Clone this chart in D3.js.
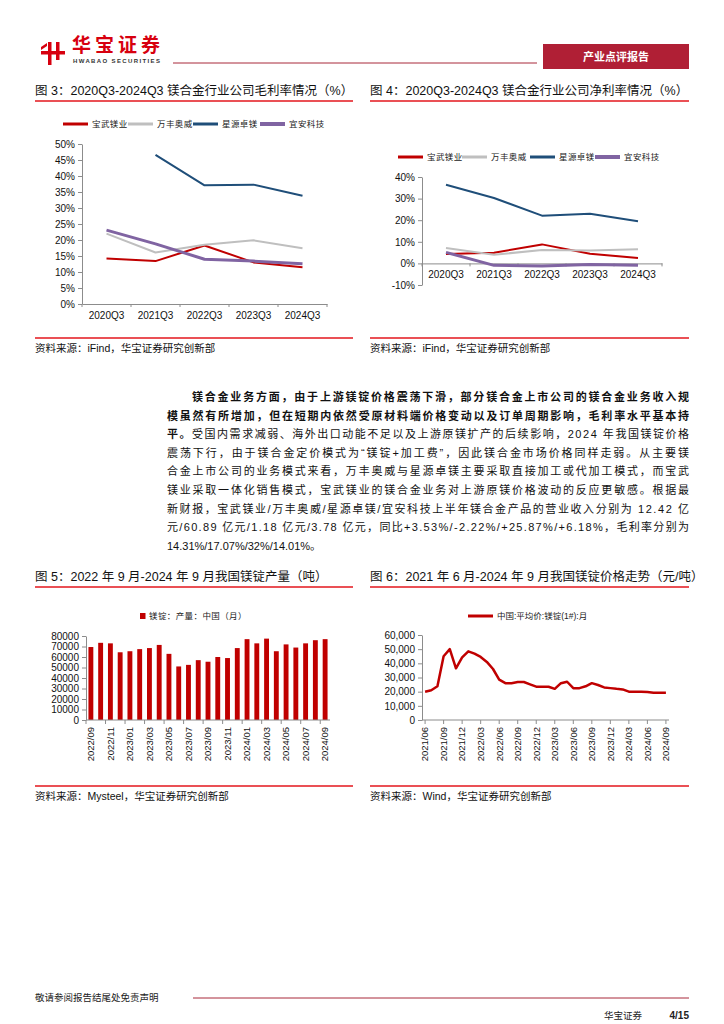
<!DOCTYPE html>
<html>
<head>
<meta charset="utf-8">
<script src="https://cdn.jsdelivr.net/npm/d3@7"></script>
<style>
  body { margin: 0; background: #fff; }
  svg { display: block; }
  text { font-family: "Liberation Sans", "Noto Sans CJK SC", sans-serif; }
</style>
</head>
<body>
<script>
// ---- data ----
const quarters = ["2020Q3", "2021Q3", "2022Q3", "2023Q3", "2024Q3"];
const companies = ["宝武镁业", "万丰奥威", "星源卓镁", "宜安科技"];

// gross margin, %
const grossBaowu = [14.2, 13.4, 18.3, 13.0, 11.5];
const grossWanfeng = [22.0, 16.1, 18.5, 19.9, 17.4];
const grossXingyuan = [null, 46.6, 37.1, 37.3, 33.8];
const grossYian = [23.1, 18.8, 14.0, 13.4, 12.6];

// net margin, %
const netBaowu = [4.3, 4.9, 8.8, 4.5, 2.5];
const netWanfeng = [7.1, 4.0, 6.2, 6.0, 6.5];
const netXingyuan = [36.4, 30.3, 22.1, 23.0, 19.5];
const netYian = [5.1, -0.9, -1.2, -0.5, -0.8];

// magnesium ingot output, tonnes / month
const prodMonths = ["2022/09", "2022/10", "2022/11", "2022/12", "2023/01", "2023/02", "2023/03",
  "2023/04", "2023/05", "2023/06", "2023/07", "2023/08", "2023/09", "2023/10", "2023/11",
  "2023/12", "2024/01", "2024/02", "2024/03", "2024/04", "2024/05", "2024/06", "2024/07",
  "2024/08", "2024/09"];
const prodValues = [69500, 73500, 73000, 64500, 65500, 67500, 68500, 71500, 63000, 51000,
  52500, 57000, 55500, 60000, 59000, 68500, 77000, 73000, 77500, 65500, 72000, 69000,
  73000, 76000, 77000];

// magnesium ingot price, yuan / tonne
const priceMonths = ["2021/06", "2021/07", "2021/08", "2021/09", "2021/10", "2021/11", "2021/12",
  "2022/01", "2022/02", "2022/03", "2022/04", "2022/05", "2022/06", "2022/07", "2022/08",
  "2022/09", "2022/10", "2022/11", "2022/12", "2023/01", "2023/02", "2023/03", "2023/04",
  "2023/05", "2023/06", "2023/07", "2023/08", "2023/09", "2023/10", "2023/11", "2023/12",
  "2024/01", "2024/02", "2024/03", "2024/04", "2024/05", "2024/06", "2024/07", "2024/08",
  "2024/09"];
const priceValues = [20000, 21000, 23800, 45000, 50000, 36500, 44200, 48500, 46800, 44500,
  41000, 36000, 28500, 26000, 26000, 26800, 26800, 25200, 23500, 23500, 23500, 22000,
  26000, 27000, 22500, 22500, 23800, 26000, 24700, 23000, 22500, 22000, 21600, 20000,
  20000, 20000, 19800, 19300, 19300, 19300];

const seriesColors = ["#c00000", "#bfbfbf", "#1f4e79", "#8064a2"];
const seriesWidths = [2, 2, 2, 3];
const ruleRed = "#e3161c";
const axisGray = "#8c8c8c";

const svg = d3.select("body").append("svg")
  .attr("width", 724)
  .attr("height", 1024);

svg.append("rect").attr("width", 724).attr("height", 1024).attr("fill", "#fff");

// ---- header ----
const logo = svg.append("g").attr("fill", "#d7000f");
logo.append("rect").attr("x", 41).attr("y", 51).attr("width", 24).attr("height", 3.5);
logo.append("rect").attr("x", 48).attr("y", 42).attr("width", 3.5).attr("height", 23);
logo.append("rect").attr("x", 56).attr("y", 42).attr("width", 3.5).attr("height", 18);
logo.append("path").attr("d", "M41,47 L47,43 L47,46 L41,50 Z");
svg.append("text")
  .attr("x", 72).attr("y", 51.5)
  .attr("font-size", 19).attr("font-weight", "bold")
  .attr("fill", "#d7000f")
  .attr("textLength", 88)
  .text("华宝证券");
svg.append("text")
  .attr("x", 73).attr("y", 62.5)
  .attr("font-size", 6).attr("font-weight", "bold")
  .attr("fill", "#333")
  .attr("textLength", 87)
  .text("HWABAO SECURITIES");
svg.append("line")
  .attr("x1", 173).attr("x2", 537).attr("y1", 63).attr("y2", 63)
  .attr("stroke", "#a8283a").attr("stroke-width", 1);
svg.append("rect")
  .attr("x", 543).attr("y", 44).attr("width", 146).attr("height", 25)
  .attr("fill", "#b01f35");
svg.append("text")
  .attr("x", 616).attr("y", 61)
  .attr("text-anchor", "middle")
  .attr("font-size", 11).attr("font-weight", "bold")
  .attr("fill", "#fff")
  .text("产业点评报告");

// ---- figure frame: title, red rules, source ----
function frame(x0, x1, title, titleY, source, ruleY) {
  svg.append("text")
    .attr("x", x0).attr("y", titleY)
    .attr("font-size", 12.5).attr("fill", "#111")
    .text(title);
  svg.append("line")
    .attr("x1", x0).attr("x2", x1).attr("y1", titleY + 6).attr("y2", titleY + 6)
    .attr("stroke", ruleRed).attr("stroke-width", 1.5);
  svg.append("line")
    .attr("x1", x0).attr("x2", x1).attr("y1", ruleY).attr("y2", ruleY)
    .attr("stroke", ruleRed).attr("stroke-width", 1.5);
  svg.append("text")
    .attr("x", x0).attr("y", ruleY + 14)
    .attr("font-size", 10.5).attr("fill", "#111")
    .text(source);
}

function styleAxis(g) {
  g.selectAll(".domain").attr("stroke", axisGray);
  g.selectAll(".tick line").attr("stroke", axisGray);
  g.selectAll("text")
    .attr("font-size", 10)
    .attr("fill", "#111")
    .attr("font-family", "'Liberation Sans', Arial, sans-serif");
}

function lineLegend(y, xs, colors, widths, labels) {
  labels.forEach((name, i) => {
    svg.append("line")
      .attr("x1", xs[i]).attr("x2", xs[i] + 25).attr("y1", y).attr("y2", y)
      .attr("stroke", colors[i]).attr("stroke-width", widths[i] + 1);
    svg.append("text")
      .attr("x", xs[i] + 29).attr("y", y + 3)
      .attr("font-size", 8.5).attr("letter-spacing", 0.4)
      .attr("fill", "#222")
      .attr("font-family", "'Noto Sans CJK SC', sans-serif")
      .text(name);
  });
}

function marginChart(opts) {
  const x = d3.scaleBand().domain(quarters).range(opts.xRange);
  const y = d3.scaleLinear().domain(opts.yDomain).range(opts.yRange);

  const gy = svg.append("g")
    .attr("transform", `translate(${opts.xRange[0]},0)`)
    .call(d3.axisLeft(y).tickValues(opts.ticks).tickFormat(d => d + "%")
      .tickSize(4).tickSizeOuter(0).tickPadding(3));
  styleAxis(gy);

  const y0 = y(0);
  const gx = svg.append("g")
    .attr("transform", `translate(0,${y0})`)
    .call(d3.axisBottom(x).tickSize(0).tickSizeOuter(0).tickPadding(8));
  styleAxis(gx);
  gx.selectAll(".boundary")
    .data(d3.range(quarters.length + 1))
    .join("line")
      .attr("class", "boundary")
      .attr("x1", i => x.range()[0] + i * x.step())
      .attr("x2", i => x.range()[0] + i * x.step())
      .attr("y1", 0).attr("y2", 3)
      .attr("stroke", axisGray);

  const line = d3.line()
    .defined(d => d != null)
    .x((d, i) => x(quarters[i]) + x.bandwidth() / 2)
    .y(d => y(d));

  opts.series.forEach((values, i) => {
    svg.append("path")
      .datum(values)
      .attr("fill", "none")
      .attr("stroke", seriesColors[i])
      .attr("stroke-width", seriesWidths[i])
      .attr("stroke-linejoin", "round")
      .attr("d", line);
  });

  lineLegend(opts.legendY, opts.legendXs, seriesColors, seriesWidths, companies);
}

// ---- figure 3 ----
frame(35, 353, "图 3：2020Q3-2024Q3 镁合金行业公司毛利率情况（%）", 95,
  "资料来源：iFind，华宝证券研究创新部", 338);
marginChart({
  xRange: [82, 327],
  yDomain: [0, 50],
  yRange: [304, 144],
  ticks: d3.range(0, 51, 5),
  series: [grossBaowu, grossWanfeng, grossXingyuan, grossYian],
  legendY: 124,
  legendXs: [63, 128, 193, 260]
});

// ---- figure 4 ----
frame(370, 689, "图 4：2020Q3-2024Q3 镁合金行业公司净利率情况（%）", 95,
  "资料来源：iFind，华宝证券研究创新部", 338);
marginChart({
  xRange: [422, 662],
  yDomain: [-10, 40],
  yRange: [285, 177],
  ticks: d3.range(-10, 41, 10),
  series: [netBaowu, netWanfeng, netXingyuan, netYian],
  legendY: 157,
  legendXs: [398, 462, 530, 595]
});

// ---- body paragraph ----
const bodyLines = [
  [["镁合金业务方面，由于上游镁锭价格震荡下滑，部分镁合金上市公司的镁合金业务收入规", true]],
  [["模虽然有所增加，但在短期内依然受原材料端价格变动以及订单周期影响，毛利率水平基本持", true]],
  [["平。", true], ["受国内需求减弱、海外出口动能不足以及上游原镁扩产的后续影响，2024 年我国镁锭价格", false]],
  [["震荡下行，由于镁合金定价模式为“镁锭+加工费”，因此镁合金市场价格同样走弱。从主要镁", false]],
  [["合金上市公司的业务模式来看，万丰奥威与星源卓镁主要采取直接加工或代加工模式，而宝武", false]],
  [["镁业采取一体化销售模式，宝武镁业的镁合金业务对上游原镁价格波动的反应更敏感。根据最", false]],
  [["新财报，宝武镁业/万丰奥威/星源卓镁/宜安科技上半年镁合金产品的营业收入分别为 12.42 亿", false]],
  [["元/60.89 亿元/1.18 亿元/3.78 亿元，同比+3.53%/-2.22%/+25.87%/+6.18%，毛利率分别为", false]],
  [["14.31%/17.07%/32%/14.01%。", false]]
];

bodyLines.forEach((parts, i) => {
  const indent = i === 0 ? 25 : 0;
  const t = svg.append("text")
    .attr("x", 167 + indent)
    .attr("y", 401 + i * 18.6)
    .attr("font-size", 11)
    .attr("fill", "#111");
  if (i < bodyLines.length - 1) {
    t.attr("textLength", 522 - indent).attr("lengthAdjust", "spacing");
  }
  parts.forEach(([s, bold]) => {
    t.append("tspan").attr("font-weight", bold ? "bold" : "normal").text(s);
  });
});

// ---- figure 5: output bars ----
frame(35, 353, "图 5：2022 年 9 月-2024 年 9 月我国镁锭产量（吨）", 581,
  "资料来源：Mysteel，华宝证券研究创新部", 786);
{
  const x = d3.scaleBand().domain(prodMonths).range([86, 330]).paddingInner(0.5).paddingOuter(0.25);
  const y = d3.scaleLinear().domain([0, 80000]).range([720, 636]);

  const gy = svg.append("g")
    .attr("transform", "translate(86,0)")
    .call(d3.axisLeft(y).tickValues(d3.range(0, 80001, 10000)).tickFormat(d3.format("d"))
      .tickSize(4).tickSizeOuter(0).tickPadding(3));
  styleAxis(gy);

  svg.append("g")
    .selectAll("rect")
    .data(prodValues)
    .join("rect")
      .attr("x", (d, i) => x(prodMonths[i]))
      .attr("y", d => y(d))
      .attr("width", x.bandwidth())
      .attr("height", d => y(0) - y(d))
      .attr("fill", "#c00000");

  const gx = svg.append("g").attr("transform", `translate(0,${y(0)})`);
  gx.append("line").attr("x1", 86).attr("x2", 330).attr("stroke", axisGray);
  const labelled = prodMonths.filter((m, i) => i % 2 === 0);
  gx.selectAll(".tk")
    .data(labelled)
    .join("line")
      .attr("class", "tk")
      .attr("x1", m => x(m) - x.step() * x.paddingInner() / 2)
      .attr("x2", m => x(m) - x.step() * x.paddingInner() / 2)
      .attr("y1", 0).attr("y2", 4)
      .attr("stroke", axisGray);
  gx.selectAll("text")
    .data(labelled)
    .join("text")
      .attr("transform", m => `translate(${x(m) + x.bandwidth() / 2},7) rotate(-90)`)
      .attr("text-anchor", "end")
      .attr("dy", "0.35em")
      .attr("font-size", 9.5)
      .attr("fill", "#111")
      .text(m => m);

  svg.append("rect")
    .attr("x", 140).attr("y", 613).attr("width", 5.5).attr("height", 6)
    .attr("fill", "#c00000");
  svg.append("text")
    .attr("x", 149).attr("y", 619)
    .attr("font-size", 8.5).attr("letter-spacing", 0.4)
    .attr("fill", "#222")
    .attr("font-family", "'Noto Sans CJK SC', sans-serif")
    .text("镁锭：产量：中国（月）");
}

// ---- figure 6: price line ----
frame(370, 689, "图 6：2021 年 6 月-2024 年 9 月我国镁锭价格走势（元/吨）", 581,
  "资料来源：Wind，华宝证券研究创新部", 786);
{
  const x = d3.scaleBand().domain(priceMonths).range([422, 669]);
  const y = d3.scaleLinear().domain([0, 60000]).range([720, 635]);

  const gy = svg.append("g")
    .attr("transform", "translate(422,0)")
    .call(d3.axisLeft(y).tickValues(d3.range(0, 60001, 10000)).tickFormat(d3.format(","))
      .tickSize(4).tickSizeOuter(0).tickPadding(3));
  styleAxis(gy);

  const gx = svg.append("g").attr("transform", `translate(0,${y(0)})`);
  gx.append("line").attr("x1", 422).attr("x2", 669).attr("stroke", axisGray);
  const labelled = priceMonths.filter((m, i) => i % 3 === 0);
  gx.selectAll(".tk")
    .data(labelled)
    .join("line")
      .attr("class", "tk")
      .attr("x1", m => x(m) + x.bandwidth() / 2)
      .attr("x2", m => x(m) + x.bandwidth() / 2)
      .attr("y1", 0).attr("y2", 4)
      .attr("stroke", axisGray);
  gx.selectAll("text")
    .data(labelled)
    .join("text")
      .attr("transform", m => `translate(${x(m) + x.bandwidth() / 2},7) rotate(-90)`)
      .attr("text-anchor", "end")
      .attr("dy", "0.35em")
      .attr("font-size", 9.5)
      .attr("fill", "#111")
      .text(m => m);

  const line = d3.line()
    .x((d, i) => x(priceMonths[i]) + x.bandwidth() / 2)
    .y(d => y(d));
  svg.append("path")
    .datum(priceValues)
    .attr("fill", "none")
    .attr("stroke", "#c00000")
    .attr("stroke-width", 2.5)
    .attr("stroke-linejoin", "round")
    .attr("d", line);

  svg.append("line")
    .attr("x1", 468).attr("x2", 493).attr("y1", 616).attr("y2", 616)
    .attr("stroke", "#c00000").attr("stroke-width", 3);
  svg.append("text")
    .attr("x", 497).attr("y", 619)
    .attr("font-size", 8.5)
    .attr("fill", "#222")
    .attr("font-family", "'Noto Sans CJK SC', sans-serif")
    .text("中国:平均价:镁锭(1#):月");
}

// ---- footer ----
svg.append("text")
  .attr("x", 35).attr("y", 1001)
  .attr("font-size", 9.5).attr("fill", "#222")
  .attr("font-family", "'Noto Sans CJK SC', sans-serif")
  .text("敬请参阅报告结尾处免责声明");
svg.append("line")
  .attr("x1", 193).attr("x2", 689).attr("y1", 998).attr("y2", 998)
  .attr("stroke", "#a8283a").attr("stroke-width", 1);
svg.append("text")
  .attr("x", 604).attr("y", 1019)
  .attr("font-size", 9.5).attr("fill", "#222")
  .attr("font-family", "'Noto Sans CJK SC', sans-serif")
  .text("华宝证券");
svg.append("text")
  .attr("x", 689).attr("y", 1019)
  .attr("text-anchor", "end")
  .attr("font-size", 10).attr("font-weight", "bold").attr("fill", "#222")
  .text("4/15");
</script>
</body>
</html>
